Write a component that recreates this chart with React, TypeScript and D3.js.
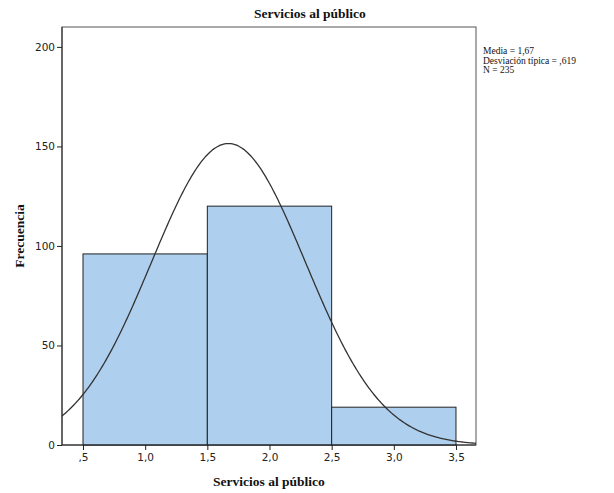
import React, { useEffect, useRef } from 'react'
import * as d3 from 'd3'

// histogram bins (lower edge, upper edge) and counts
const binStarts = [0.5, 1.5, 2.5]
const binEnds = [1.5, 2.5, 3.5]
const counts = [96, 120, 19]

const xTicks = [0.5, 1.0, 1.5, 2.0, 2.5, 3.0, 3.5]
const yTicks = [0, 50, 100, 150, 200]

const mean = 1.67
const sd = 0.619
const n = 235

const legendLines = ['Media = 1,67', 'Desviación típica = ,619', 'N = 235']

const fmtX = (v: number) => {
  const s = v.toFixed(1).replace('.', ',')
  return s.startsWith('0') ? s.slice(1) : s
}

export default function App() {
  const ref = useRef<SVGSVGElement>(null)

  useEffect(() => {
    const svg = d3.select(ref.current)
    svg.selectAll('*').remove()

    const left = 62, right = 476, top = 27, bottom = 445
    const x = d3.scaleLinear().domain([0.331, 3.661]).range([left, right])
    const y = d3.scaleLinear().domain([0, 210]).range([bottom, top])

    const serif = '"Liberation Serif", "Times New Roman", serif'
    const sans = '"DejaVu Sans", Tahoma, sans-serif'

    svg.append('rect').attr('width', 614).attr('height', 493).attr('fill', '#fff')

    // title
    svg.append('text')
      .attr('x', 310).attr('y', 18)
      .attr('text-anchor', 'middle')
      .attr('font-family', serif).attr('font-weight', 'bold').attr('font-size', 13.5)
      .attr('fill', '#111')
      .text('Servicios al público')

    // frame
    svg.append('rect')
      .attr('x', left).attr('y', top)
      .attr('width', right - left).attr('height', bottom - top)
      .attr('fill', 'none').attr('stroke', '#555').attr('stroke-width', 1)

    const clipId = 'plotclip'
    svg.append('clipPath').attr('id', clipId)
      .append('rect').attr('x', left).attr('y', top).attr('width', right - left).attr('height', bottom - top)

    // bars
    svg.append('g').selectAll('rect')
      .data(counts)
      .enter().append('rect')
      .attr('x', (d, i) => x(binStarts[i]))
      .attr('width', (d, i) => x(binEnds[i]) - x(binStarts[i]))
      .attr('y', d => y(d))
      .attr('height', d => bottom - y(d))
      .attr('fill', '#aecfee')
      .attr('stroke', '#222').attr('stroke-width', 1)

    // normal curve fitted from mean, sd, n (bin width 1)
    const pts = d3.range(0.3, 3.7, 0.01).map(v => {
      const z = (v - mean) / sd
      return [v, n * Math.exp(-0.5 * z * z) / (sd * Math.sqrt(2 * Math.PI))]
    })
    svg.append('path')
      .attr('clip-path', `url(#${clipId})`)
      .attr('d', d3.line().x(d => x(d[0])).y(d => y(d[1]))(pts as [number, number][]))
      .attr('fill', 'none').attr('stroke', '#333').attr('stroke-width', 1.3)

    // axes
    svg.append('g')
      .attr('transform', `translate(0, ${bottom})`)
      .call(g => {
        g.call(d3.axisBottom(x).tickValues(xTicks).tickFormat(d => fmtX(+d)).tickSize(5).tickPadding(4).tickSizeOuter(0))
        g.select('.domain').attr('stroke', '#222').attr('d', `M${left},0H${right}`)
        g.selectAll('.tick line').attr('stroke', '#222')
        g.selectAll('.tick text').attr('font-family', sans).attr('font-size', 10.5).attr('fill', '#222')
      })

    svg.append('g')
      .attr('transform', `translate(${left}, 0)`)
      .call(g => {
        g.call(d3.axisLeft(y).tickValues(yTicks).tickSize(5).tickPadding(2).tickSizeOuter(0))
        g.select('.domain').attr('stroke', '#222').attr('d', `M0,${top}V${bottom}`)
        g.selectAll('.tick line').attr('stroke', '#222')
        g.selectAll('.tick text').attr('font-family', sans).attr('font-size', 10.5).attr('fill', '#222')
      })

    // axis titles
    svg.append('text')
      .attr('x', 269).attr('y', 486)
      .attr('text-anchor', 'middle')
      .attr('font-family', serif).attr('font-weight', 'bold').attr('font-size', 13.5)
      .attr('fill', '#111')
      .text('Servicios al público')

    svg.append('text')
      .attr('transform', `translate(24, ${236}) rotate(-90)`)
      .attr('text-anchor', 'middle')
      .attr('font-family', serif).attr('font-weight', 'bold').attr('font-size', 13.5)
      .attr('fill', '#111')
      .text('Frecuencia')

    // stats legend
    svg.append('g').selectAll('text')
      .data(legendLines)
      .enter().append('text')
      .attr('x', 483).attr('y', (d, i) => 54 + i * 9.5)
      .attr('font-family', serif).attr('font-size', 9.5)
      .attr('fill', '#111')
      .text(d => d)
  }, [])

  return <svg ref={ref} width={614} height={493} style={{ display: 'block', position: 'absolute', left: 0, top: 0 }} />
}
